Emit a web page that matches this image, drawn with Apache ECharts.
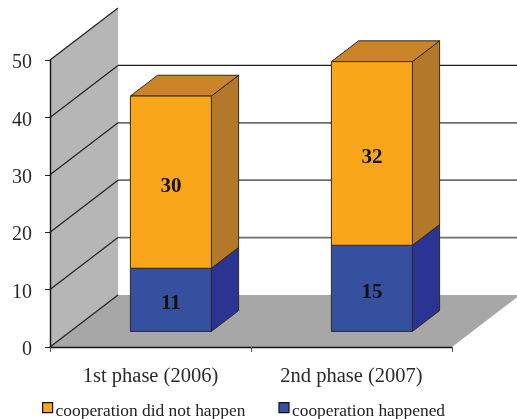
<!DOCTYPE html>
<html>
<head>
<meta charset="utf-8">
<style>html,body{margin:0;padding:0;background:#fff}#chart{width:517px;height:419px}</style>
<script src="https://cdn.jsdelivr.net/npm/echarts@6/dist/echarts.min.js"></script>
</head>
<body>
<div id="chart"></div>
<script>
const categories = ['1st phase (2006)', '2nd phase (2007)'];
const happened = [11, 15];
const didNotHappen = [30, 32];
const gridValues = [10, 20, 30, 40, 50];
const happenedName = 'cooperation happened';
const didNotHappenName = 'cooperation did not happen';

// Oblique projection used for the pseudo-3D box
const DEPTH_X = 68, DEPTH_Y = -52;
const BAR_NEAR = 0.3, BAR_FAR = 0.7, BAR_RATIO = 0.403;
const SERIF = '"Liberation Serif", "Times New Roman", serif';

const shift = (p, t) => [p[0] + DEPTH_X * t, p[1] + DEPTH_Y * t];
const poly = (points, fill, stroke, lineWidth) => ({
  type: 'polygon', shape: { points }, style: { fill, stroke: stroke || null, lineWidth: lineWidth || 0 }, silent: true
});

function renderBackdrop(params, api) {
  const g = params.coordSys;
  const left = g.x, right = g.x + g.width;
  const y0 = api.coord([0, 0])[1], yTop = api.coord([0, 50])[1];
  const children = [
    poly([[left, y0], [left, yTop], shift([left, yTop], 1), shift([left, y0], 1)], '#b6b6b6'),
    poly([[left, y0], [right, y0], shift([right, y0], 1), shift([left, y0], 1)], '#a7a7a7'),
    { type: 'line', shape: { x1: left, y1: y0, x2: left + DEPTH_X, y2: y0 + DEPTH_Y }, style: { stroke: '#222', lineWidth: 1.2 } }
  ];
  gridValues.forEach(v => {
    const y = api.coord([0, v])[1];
    const a = [left, y], b = shift(a, 1), c = shift([right, y], 1);
    children.push({ type: 'line', shape: { x1: a[0], y1: a[1], x2: b[0], y2: b[1] }, style: { stroke: '#222', lineWidth: 1.2 } });
    if (v < 50) {
      children.push({ type: 'line', shape: { x1: b[0], y1: b[1], x2: c[0], y2: c[1] },
        style: { stroke: v === 40 ? '#1c1c1c' : '#6e6e6e', lineWidth: v === 40 ? 1.4 : 1.8 } });
    }
  });
  return { type: 'group', children };
}

function barRenderer(frontFill, sideFill, topFill) {
  return function (params, api) {
    const cat = api.value(0), base = api.value(1), top = api.value(2);
    const half = api.size([1, 0])[0] * BAR_RATIO / 2;
    const pb = api.coord([cat, base]), pt = api.coord([cat, top]);
    const near = p => shift(p, BAR_NEAR), far = p => shift(p, BAR_FAR);
    const bl = [pb[0] - half, pb[1]], br = [pb[0] + half, pb[1]];
    const tl = [pt[0] - half, pt[1]], tr = [pt[0] + half, pt[1]];
    const edge = '#2e2a22';
    const cx = near(bl)[0] + half, cy = (near(bl)[1] + near(tl)[1]) / 2 + 4;
    return {
      type: 'group',
      children: [
        poly([near(br), far(br), far(tr), near(tr)], sideFill, edge, 1),
        poly([near(tl), near(tr), far(tr), far(tl)], topFill, edge, 1),
        poly([near(bl), near(br), near(tr), near(tl)], frontFill, edge, 1),
        { type: 'text', style: { text: String(top - base), x: cx, y: cy, align: 'center', verticalAlign: 'middle',
            font: 'bold 21px ' + SERIF, fill: '#111' } }
      ]
    };
  };
}

const chart = echarts.init(document.getElementById('chart'), null, { renderer: 'canvas' });
chart.setOption({
  animation: false,
  backgroundColor: '#fff',
  grid: { left: 50, right: 65, top: 60, bottom: 72, containLabel: false },
  xAxis: {
    type: 'category', data: categories,
    axisLine: { lineStyle: { color: '#111', width: 1.4 } },
    axisTick: { show: true, length: 5, alignWithLabel: false, lineStyle: { color: '#555' } },
    axisLabel: { margin: 19, color: '#2a2a2a', fontFamily: SERIF, fontSize: 20.5 },
    splitLine: { show: false }, z: 5
  },
  yAxis: {
    type: 'value', min: 0, max: 50, interval: 10,
    axisLine: { show: true, lineStyle: { color: '#111', width: 1.4 } },
    axisTick: { show: true, length: 5, lineStyle: { color: '#222' } },
    axisLabel: { margin: 18, color: '#2a2a2a', fontFamily: SERIF, fontSize: 20, verticalAlign: 'top', lineHeight: 6 },
    splitLine: { show: false }, z: 5
  },
  legend: {
    left: 42, top: 402, padding: 0, itemWidth: 10, itemHeight: 10, itemGap: 33, icon: 'rect',
    data: [didNotHappenName, happenedName],
    formatter: '{t|{name}}',
    textStyle: {
      color: '#222',
      rich: { t: { fontFamily: SERIF, fontSize: 17.4, color: '#222', padding: [8, 0, 0, -2] } }
    },
    itemStyle: { borderColor: '#111', borderWidth: 1.2 }
  },
  series: [
    { type: 'custom', name: 'backdrop', silent: true, renderItem: renderBackdrop, data: [[0, 0]], encode: { x: 0, y: 1 }, z: 1 },
    { type: 'custom', name: happenedName, silent: true, z: 2,
      itemStyle: { color: '#35509f' },
      renderItem: barRenderer('#35509f', '#2b3493', '#2b3493'),
      encode: { x: 0, y: [1, 2] },
      data: happened.map((v, i) => [i, 0, v]) },
    { type: 'custom', name: didNotHappenName, silent: true, z: 3,
      itemStyle: { color: '#faa61a' },
      renderItem: barRenderer('#faa61a', '#b3782a', '#cc8428'),
      encode: { x: 0, y: [1, 2] },
      data: didNotHappen.map((v, i) => [i, happened[i], happened[i] + v]) }
  ]
});
</script>
</body>
</html>
